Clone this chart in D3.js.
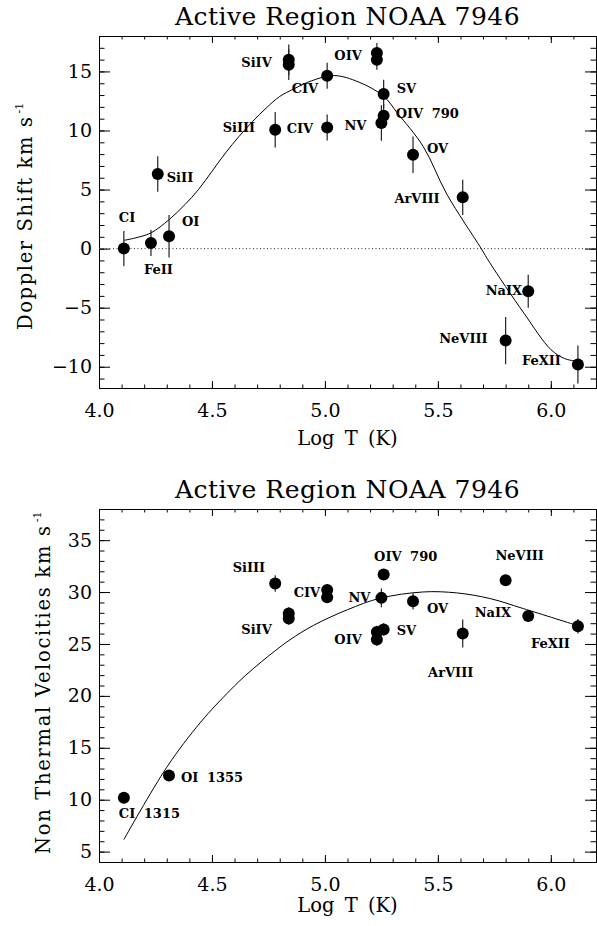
<!DOCTYPE html>
<html>
<head>
<meta charset="utf-8">
<script src="https://cdn.jsdelivr.net/npm/d3@7"></script>
<style>
body { margin: 0; background: #fff; }
text { font-family: "DejaVu Serif", serif; fill: #000; }
.ion { font-weight: bold; font-size: 13px; }
</style>
</head>
<body>
<svg id="chart" width="597" height="926"></svg>
<script>
// ---- top panel: Doppler shift
const dopIon   = ["CI", "FeII", "OI", "SiII", "SiIII", "SiIV", "SiIV", "CIV", "CIV", "OIV", "OIV",
                  "SV", "OIV 790", "NV", "OV", "ArVIII", "NaIX", "NeVIII", "FeXII"];
const dopLogT  = [4.11, 4.23, 4.31, 4.26, 4.78, 4.84, 4.84, 5.01, 5.01, 5.23, 5.23,
                  5.26, 5.26, 5.25, 5.39, 5.61, 5.90, 5.80, 6.12];
const dopShift = [0.0, 0.48, 1.04, 6.32, 10.07, 15.99, 15.57, 14.64, 10.26, 16.56, 15.99,
                  13.09, 11.25, 10.63, 7.95, 4.34, -3.61, -7.78, -9.81];
const dopErr   = [1.5, 1.1, 1.8, 1.5, 1.5, 1.3, 1.3, 1.1, 1.1, 0.85, 0.85,
                  1.2, 1.0, 1.5, 1.55, 1.5, 1.4, 2.0, 1.6];
// fitted curve
const dopFitT = [4.11, 4.16, 4.23, 4.31, 4.38, 4.44, 4.50, 4.56, 4.62, 4.68, 4.74, 4.80, 4.86,
                 4.94, 5.04, 5.15, 5.26, 5.32, 5.435, 5.54, 5.69, 5.73, 5.88, 6.00, 6.06, 6.11];
const dopFitV = [0.70, 0.90, 1.33, 2.45, 3.72, 4.99, 6.54, 8.10, 9.50, 10.77, 11.90, 12.88, 13.50,
                 14.2, 14.65, 14.1, 12.9, 11.5, 8.65, 4.6, 0.06, -1.2, -5.44, -8.54, -9.3, -9.53];

// ---- bottom panel: non thermal velocities
const ntvIon  = ["CI 1315", "OI 1355", "SiIII", "SiIV", "SiIV", "CIV", "CIV", "NV", "OIV 790",
                 "OIV", "OIV", "SV", "OV", "ArVIII", "NeVIII", "NaIX", "FeXII"];
const ntvLogT = [4.11, 4.31, 4.78, 4.84, 4.84, 5.01, 5.01, 5.25, 5.26,
                 5.23, 5.23, 5.26, 5.39, 5.61, 5.80, 5.90, 6.12];
const ntvVel  = [10.18, 12.33, 30.82, 27.93, 27.45, 30.2, 29.5, 29.44, 31.69,
                 26.16, 25.42, 26.39, 29.12, 26.0, 31.14, 27.7, 26.7];
const ntvErr  = [0.3, 0.3, 0.8, 0.6, 0.6, 0.5, 0.5, 0.9, 0.4,
                 0.6, 0.6, 0.6, 0.8, 1.35, 0.3, 0.5, 0.7];
const ntvFitT = [4.11, 4.30, 4.45, 4.58, 4.65, 4.72, 4.78, 4.845, 4.95, 5.10, 5.243, 5.435,
                 5.583, 5.73, 5.878, 6.114];
const ntvFitV = [6.16, 13.13, 17.47, 20.53, 22.0, 23.3, 24.35, 25.4, 26.8, 28.3, 29.4, 30.01,
                 29.92, 29.38, 28.41, 26.8];

const xTicks   = [4.0, 4.5, 5.0, 5.5, 6.0];
const dopTicks = [-10, -5, 0, 5, 10, 15];
const ntvTicks = [5, 10, 15, 20, 25, 30, 35];

// label placement: point index, anchor, offset from the marker
const dopLabelPos = [
  [0, "start", -5, -27], [1, "start", -7, 31], [2, "start", 13, -10], [3, "start", 9, 8],
  [4, "end", -20, 2], [5, "end", -17, 7], [7, "end", -9, 17], [8, "end", -14, 6],
  [9, "end", -15, 7], [11, "start", 13, -1], [12, "start", 12, 2], [13, "end", -15, 7],
  [14, "start", 14, -2], [15, "end", -23, 6], [16, "end", -6, 4], [17, "end", -18, 2],
  [18, "end", -17, 1]
];
const ntvLabelPos = [
  [0, "start", -5, 20], [1, "start", 12, 6], [2, "end", -10, -12], [3, "end", -17, 20],
  [5, "end", -7, 7], [7, "end", -11, 4], [8, "middle", 22, -14], [10, "end", -15, 4],
  [11, "start", 13, 5], [12, "start", 14, 12], [13, "middle", -12, 43], [14, "middle", 14, -20],
  [15, "end", -17, 1], [16, "end", -8, 22]
];

const svg = d3.select("#chart");
const left = 99, right = 596;
const x = d3.scaleLinear().domain([4.0, 6.2]).range([left, right]);

function drawPanel(p) {
    const y = d3.scaleLinear().domain(p.domain).range([p.bottom, p.top]);
    const g = svg.append("g");

    // frame
    g.append("rect")
        .attr("x", left + 0.5).attr("y", p.top + 0.5)
        .attr("width", right - left).attr("height", p.bottom - p.top)
        .attr("fill", "none").attr("stroke", "#000").attr("stroke-width", 1);

    const xMinor = d3.range(40, 63).map(d => d / 10);
    const yMinor = d3.range(Math.ceil(p.domain[0]), Math.floor(p.domain[1]) + 1);

    const axes = [
        [d3.axisBottom(x).tickValues(xMinor).tickSize(-3.5).tickFormat(""), `translate(0,${p.bottom})`],
        [d3.axisTop(x).tickValues(xMinor).tickSize(-3.5).tickFormat(""), `translate(0,${p.top})`],
        [d3.axisTop(x).tickValues(xTicks).tickSize(-7).tickFormat(""), `translate(0,${p.top})`],
        [d3.axisLeft(y).tickValues(yMinor).tickSize(-5.5).tickFormat(""), `translate(${left},0)`],
        [d3.axisRight(y).tickValues(yMinor).tickSize(-5.5).tickFormat(""), `translate(${right},0)`],
        [d3.axisRight(y).tickValues(p.ticks).tickSize(-11).tickFormat(""), `translate(${right},0)`]
    ];
    axes.forEach(a => {
        const ax = g.append("g").attr("transform", a[1]).call(a[0]);
        ax.select(".domain").remove();
    });

    // labelled axes
    const xb = g.append("g").attr("transform", `translate(0,${p.bottom})`)
        .call(d3.axisBottom(x).tickValues(xTicks).tickSize(-7).tickPadding(16).tickFormat(d3.format(".1f")));
    xb.select(".domain").remove();
    xb.selectAll("text").attr("font-family", "DejaVu Serif").attr("font-size", 19);

    const yl = g.append("g").attr("transform", `translate(${left},0)`)
        .call(d3.axisLeft(y).tickValues(p.ticks).tickSize(-11).tickPadding(7).tickFormat(d3.format("d")));
    yl.select(".domain").remove();
    yl.selectAll("text").attr("font-family", "DejaVu Serif").attr("font-size", 19);

    if (p.zeroLine) {
        g.append("line")
            .attr("x1", left).attr("x2", right)
            .attr("y1", y(0)).attr("y2", y(0))
            .attr("stroke", "#333").attr("stroke-width", 1)
            .attr("stroke-dasharray", "1,2.5");
    }

    // title and axis titles
    g.append("text")
        .attr("x", (left + right) / 2).attr("y", p.top - 11)
        .attr("text-anchor", "middle").attr("font-size", 25)
        .style("letter-spacing", "0.5px")
        .text("Active Region NOAA 7946");

    g.append("text")
        .attr("x", (left + right) / 2).attr("y", p.xLabelY)
        .attr("text-anchor", "middle").attr("font-size", 19.5)
        .style("word-spacing", "4px")
        .text("Log T (K)");

    const yt = g.append("text")
        .attr("transform", `translate(${p.yLabelX},${p.yLabelStart}) rotate(-90)`)
        .attr("font-size", 19.5);
    yt.append("tspan")
        .attr("textLength", p.yLabelLen).attr("lengthAdjust", "spacing")
        .text(p.yLabel);
    yt.append("tspan").attr("dy", -9).attr("dx", 2).attr("font-size", 11).text("-1");

    // fitted curve
    const line = d3.line()
        .x(d => x(d[0])).y(d => y(d[1]))
        .curve(d3.curveCatmullRom.alpha(0.5));
    g.append("path")
        .datum(d3.zip(p.fitT, p.fitV))
        .attr("d", line)
        .attr("fill", "none").attr("stroke", "#000").attr("stroke-width", 1);

    // error bars and points
    const pts = p.t.map((t, i) => ({ t: t, v: p.v[i], e: p.e[i], ion: p.ion[i] }));
    g.selectAll(".err").data(pts).enter().append("line")
        .attr("class", "err")
        .attr("x1", d => x(d.t)).attr("x2", d => x(d.t))
        .attr("y1", d => y(d.v - d.e)).attr("y2", d => y(d.v + d.e))
        .attr("stroke", "#222").attr("stroke-width", 1.2);
    g.selectAll(".pt").data(pts).enter().append("circle")
        .attr("class", "pt")
        .attr("cx", d => x(d.t)).attr("cy", d => y(d.v))
        .attr("r", 6).attr("fill", "#000");

    // ion labels
    g.selectAll(".ion").data(p.labels).enter().append("text")
        .attr("class", "ion")
        .attr("x", d => x(pts[d[0]].t) + d[2])
        .attr("y", d => y(pts[d[0]].v) + d[3])
        .attr("text-anchor", d => d[1])
        .style("word-spacing", "4px")
        .text(d => pts[d[0]].ion);
}

drawPanel({
    top: 36, bottom: 388, domain: [-11.8, 18], ticks: dopTicks,
    t: dopLogT, v: dopShift, e: dopErr, ion: dopIon, labels: dopLabelPos,
    fitT: dopFitT, fitV: dopFitV, zeroLine: true,
    yLabel: "Doppler Shift km s", yLabelX: 32, yLabelStart: 330, yLabelLen: 213,
    xLabelY: 445
});

drawPanel({
    top: 509, bottom: 862, domain: [4, 38], ticks: ntvTicks,
    t: ntvLogT, v: ntvVel, e: ntvErr, ion: ntvIon, labels: ntvLabelPos,
    fitT: ntvFitT, fitV: ntvFitV, zeroLine: false,
    yLabel: "Non Thermal Velocities km s", yLabelX: 50, yLabelStart: 854, yLabelLen: 328,
    xLabelY: 912
});
</script>
</body>
</html>
